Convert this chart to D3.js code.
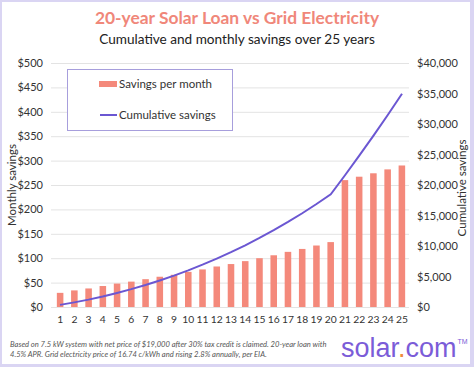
<!DOCTYPE html>
<html><head><meta charset="utf-8">
<script src="https://cdn.jsdelivr.net/npm/d3@7"></script>
<style>html,body{margin:0;padding:0;background:#fff;}svg{display:block;}</style>
</head><body>
<svg id="c" width="474" height="367"></svg>
<script>
const years = ["1","2","3","4","5","6","7","8","9","10","11","12","13","14","15","16","17","18","19","20","21","22","23","24","25"];
const monthlySavings = [29,34,38,43,48,52,57,62,66,72,77,83,88,94,100,106,113,119,126,133,260,267,274,282,290];
const cumulativeSavings = [348,756,1212,1728,2304,2928,3612,4356,5148,6012,6936,7932,8988,10116,11316,12588,13944,15372,16884,18480,21600,24804,28092,31476,34956];
const leftTicks = [0,50,100,150,200,250,300,350,400,450,500];
const rightTicks = [0,5000,10000,15000,20000,25000,30000,35000,40000];
const titleText = "20-year Solar Loan vs Grid Electricity";
const subtitleText = "Cumulative and monthly savings over 25 years";
const footLines = ["Based on 7.5 kW system with net price of $19,000 after 30% tax credit is claimed. 20-year loan with",
                   "4.5% APR. Grid electricity price of 16.74 c/kWh and rising 2.8% annually, per EIA."];

const svg = d3.select("#c");
const W = 474, H = 367;
const font = "'Source Sans Pro', Lato, 'Noto Sans', sans-serif";
const barColor = "#F4897B", lineColor = "#6B57D2", frame = "#DAD5F3";

// frame
svg.append("rect").attr("x",0).attr("y",0).attr("width",W).attr("height",H).attr("fill",frame);
svg.append("rect").attr("x",2).attr("y",2).attr("width",W-6).attr("height",H-5).attr("fill","#fff");

const x = d3.scaleBand().domain(years).range([53,409]).paddingInner(0.54).paddingOuter(0.27);
const xc = d3.scalePoint().domain(years).range([60,402]);
const yL = d3.scaleLinear().domain([0,500]).range([307,63]);
const yR = d3.scaleLinear().domain([0,40000]).range([307,63]);

// grid
svg.append("g").selectAll("line").data(leftTicks).join("line")
  .attr("x1",51).attr("x2",409).attr("y1",d=>yL(d)+0.5).attr("y2",d=>yL(d)+0.5)
  .attr("stroke","#e3e3e3").attr("stroke-width",1);

// left axis
const axL = svg.append("g").attr("transform","translate(51,0)")
  .call(d3.axisLeft(yL).tickValues(leftTicks).tickFormat(d=>"$"+d).tickSize(0).tickPadding(8));
axL.select(".domain").remove();
axL.selectAll("text").attr("font-family",font).attr("font-size",11).attr("fill","#333");

// right axis
const axR = svg.append("g").attr("transform","translate(409,0)")
  .call(d3.axisRight(yR).tickValues(rightTicks).tickFormat(d=>"$"+d3.format(",")(d)).tickSize(0).tickPadding(8));
axR.select(".domain").remove();
axR.selectAll("text").attr("font-family",font).attr("font-size",11).attr("fill","#333");

// bottom axis
const axB = svg.append("g").attr("transform","translate(0,307)")
  .call(d3.axisBottom(x).tickSize(0).tickPadding(9));
axB.select(".domain").remove();
axB.selectAll("text").attr("font-family",font).attr("font-size",10.3).attr("fill","#333");

// bars
svg.append("g").selectAll("rect").data(monthlySavings).join("rect")
  .attr("x",(d,i)=>x(years[i])).attr("width",x.bandwidth())
  .attr("y",d=>yL(d)).attr("height",d=>yL(0)-yL(d)).attr("fill",barColor);

// line
const line = d3.line().x((d,i)=>xc(years[i])).y(d=>yR(d));
svg.append("path").datum(cumulativeSavings).attr("d",line)
  .attr("fill","none").attr("stroke",lineColor).attr("stroke-width",2);

// axis titles
svg.append("text").attr("transform","translate(16,185) rotate(-90)").attr("text-anchor","middle")
  .attr("font-family",font).attr("font-size",11.5).attr("fill","#333").text("Monthly savings");
svg.append("text").attr("transform","translate(466,188) rotate(-90)").attr("text-anchor","middle")
  .attr("font-family",font).attr("font-size",11.5).attr("fill","#333").text("Cumulative savings");

// legend
const lg = svg.append("g");
lg.append("rect").attr("x",67.5).attr("y",69.5).attr("width",165).attr("height",61)
  .attr("fill","#fff").attr("stroke","#A79EDC").attr("stroke-width",1);
lg.append("rect").attr("x",99).attr("y",81).attr("width",18).attr("height",6).attr("fill",barColor);
lg.append("text").attr("x",119).attr("y",88).attr("font-family",font).attr("font-size",11.5).attr("fill","#333").text("Savings per month");
lg.append("line").attr("x1",100).attr("x2",117).attr("y1",115).attr("y2",115).attr("stroke",lineColor).attr("stroke-width",2);
lg.append("text").attr("x",119).attr("y",119).attr("font-family",font).attr("font-size",11.5).attr("fill","#333").text("Cumulative savings");

// titles
svg.append("text").attr("x",237).attr("y",24).attr("text-anchor","middle").attr("font-family",font)
  .attr("font-weight","bold").attr("font-size",17.4).attr("fill","#F0877A").text(titleText);
svg.append("text").attr("x",237).attr("y",44).attr("text-anchor","middle").attr("font-family",font)
  .attr("font-size",13.6).attr("fill","#222").text(subtitleText);

// footer
svg.append("g").selectAll("text").data(footLines).join("text")
  .attr("x",10).attr("y",(d,i)=>347+i*9.5).attr("font-family",font).attr("font-style","italic")
  .attr("font-size",7.6).attr("fill","#555").text(d=>d);

// logo
const logo = svg.append("text").attr("x",341).attr("y",357).attr("font-family","'Liberation Sans', Arial, sans-serif")
  .attr("font-size",27).attr("fill","#7B5CD8");
logo.append("tspan").text("solar");
logo.append("tspan").attr("fill","#F08A3C").text(".");
logo.append("tspan").text("com");
logo.append("tspan").attr("font-size",7).attr("dy",-13).attr("dx",1).text("TM");
</script>
</body></html>
